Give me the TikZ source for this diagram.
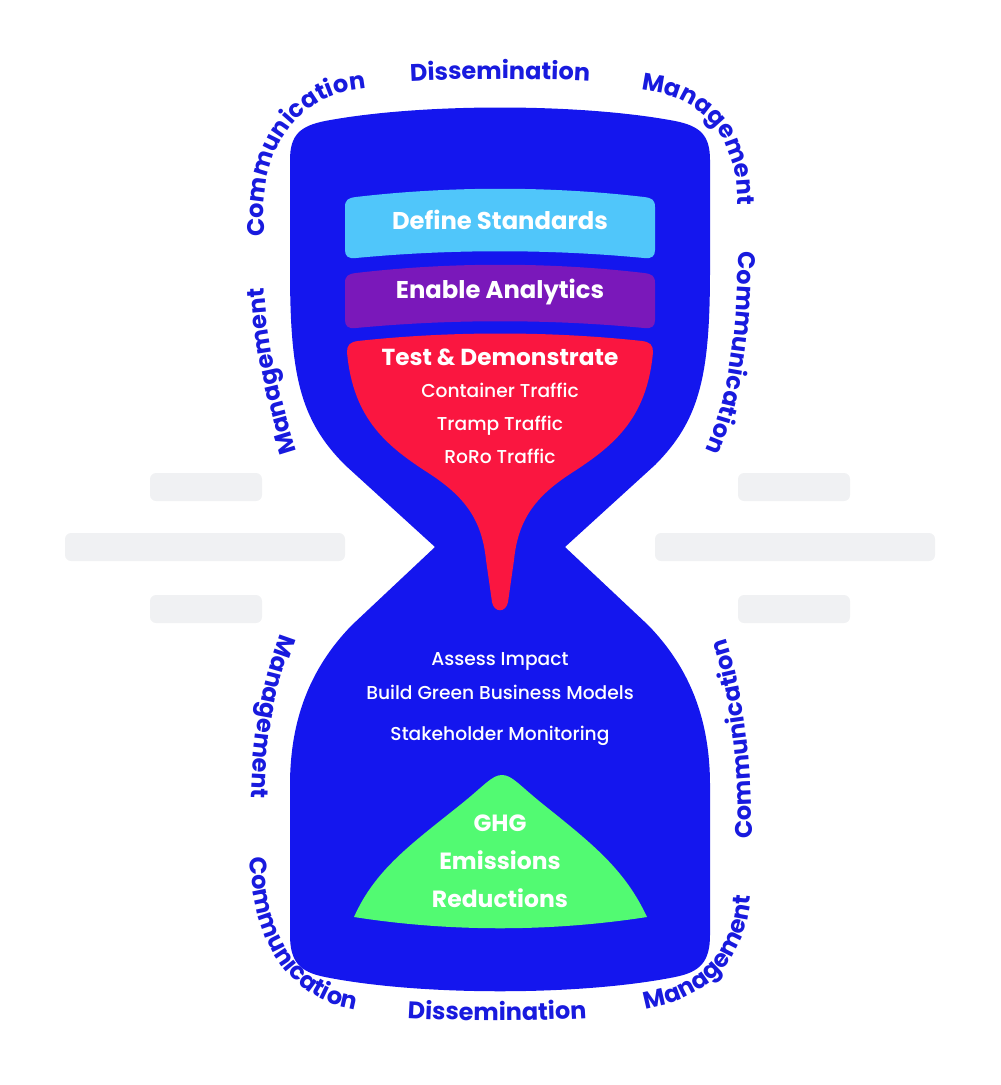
\documentclass[tikz,border=0pt]{standalone}
\usepackage{fontspec}
\setmainfont{Poppins}
\IfFontExistsTF{Poppins Medium}{\newfontfamily\medfont{Poppins Medium}}{\newcommand\medfont{}}
\usetikzlibrary{decorations.text}
\definecolor{hgblue}{RGB}{20,22,238}
\definecolor{lblblue}{RGB}{24,26,222}
\definecolor{skyb}{RGB}{80,198,250}
\definecolor{purp}{RGB}{122,24,186}
\definecolor{redf}{RGB}{250,22,64}
\definecolor{greenm}{RGB}{82,250,114}
\definecolor{barg}{RGB}{240,241,243}
\newcommand\lblfont{\bfseries\fontsize{18}{18}\selectfont}
\begin{document}
\begin{tikzpicture}[x=0.75pt,y=-0.75pt,
  bar/.style={fill=barg,rounded corners=4.5pt},
  inb/.style={text=white,anchor=base,inner sep=0pt,font=\bfseries\fontsize{18.2}{22}\selectfont},
  inr/.style={text=white,anchor=base,inner sep=0pt,font=\medfont\fontsize{14}{18}\selectfont},
  ringlbl/.style={decorate,decoration={text along path,text align=center,text color=lblblue,text={|\lblfont|#1}}}]
\useasboundingbox (0,0) rectangle (1000,1085);
% grey bars
\fill[bar] (150,473) rectangle (262,501);
\fill[bar] (65,533) rectangle (345,561);
\fill[bar] (150,595) rectangle (262,623);
\fill[bar] (738,473) rectangle (850,501);
\fill[bar] (655,533) rectangle (935,561);
\fill[bar] (738,595) rectangle (850,623);
% hourglass
\fill[hgblue] (290,160) .. controls (290,135) and (300,126) .. (325,121)
 .. controls (420,103) and (580,103) .. (675,121)
 .. controls (700,126) and (710,135) .. (710,160)
 -- (710,270)
 .. controls (710,375) and (700,420) .. (655,465)
 -- (565,547)
 -- (648,625)
 .. controls (690,668) and (710,720) .. (710,785)
 -- (710,935)
 .. controls (710,962) and (700,972) .. (675,977)
 .. controls (580,996) and (420,996) .. (325,977)
 .. controls (300,972) and (290,962) .. (290,935)
 -- (290,785)
 .. controls (290,720) and (310,668) .. (352,625)
 -- (435,547)
 -- (345,465)
 .. controls (300,420) and (290,375) .. (290,270)
 -- cycle;
% bands
\fill[skyb] (345,207) .. controls (345,200) and (348,198) .. (356,197) .. controls (450,186) and (550,186) .. (644,197) .. controls (652,198) and (655,200) .. (655,207) -- (655,250) .. controls (655,256) and (652,259) .. (644,258) .. controls (550,249) and (450,249) .. (356,258) .. controls (348,259) and (345,256) .. (345,250) -- cycle;
\fill[purp] (345,283) .. controls (345,276) and (348,274) .. (356,273) .. controls (450,262) and (550,262) .. (644,273) .. controls (652,274) and (655,276) .. (655,283) -- (655,320) .. controls (655,326) and (652,329) .. (644,328) .. controls (550,319) and (450,319) .. (356,328) .. controls (348,329) and (345,326) .. (345,320) -- cycle;
\fill[redf] (347,352) .. controls (347,345) and (350,342) .. (358,341) .. controls (450,331) and (550,331) .. (642,341) .. controls (650,342) and (653,345) .. (653,352) .. controls (647,420) and (612,447) .. (570,474) .. controls (535,497) and (518,520) .. (514,560) -- (508,602) .. controls (506,613) and (494,613) .. (492,602) -- (486,560) .. controls (482,520) and (465,497) .. (430,474) .. controls (388,447) and (353,420) .. (347,352) -- cycle;
\fill[greenm] (354,917) .. controls (375,870) and (410,845) .. (460,805) .. controls (485,785) and (492,775) .. (502,775) .. controls (512,775) and (519,785) .. (544,805) .. controls (594,845) and (625,870) .. (647,917) .. controls (550,932) and (450,932) .. (354,917) -- cycle;
% inner texts
\node[inb] (ds) at (500,229) {Define Standards};
\node[inb] (ea) at (500,298) {Enable Analytics};
\node[inb,font=\bfseries\fontsize{17.4}{22}\selectfont] (td) at (500,365) {Test \& Demonstrate};
\node[inr] (ct) at (500,397) {Container Traffic};
\node[inr] (tt) at (500,430) {Tramp Traffic};
\node[inr] (rr) at (500,463) {RoRo Traffic};
\node[inr] (ai) at (500,665) {Assess Impact};
\node[inr] (bg) at (500,699) {Build Green Business Models};
\node[inr] (sm) at (500,740) {Stakeholder Monitoring};
\node[inb,font=\bfseries\fontsize{17.6}{22}\selectfont] (g1) at (500,831) {GHG};
\node[inb,font=\bfseries\fontsize{17.6}{22}\selectfont] (g2) at (500,869) {Emissions};
\node[inb,font=\bfseries\fontsize{17.6}{22}\selectfont] (g3) at (500,907) {Reductions};
% ring labels
\path[ringlbl=Management] (314,505) -- (299,458) .. controls (280,400) and (266,340) .. (264,282) -- (264,232);
\path[ringlbl=Communication] (264,276) -- (264,226) .. controls (260,150) and (295,100) .. (356,90) -- (405,83);
\path[ringlbl=Dissemination] (360,85) .. controls (440,77) and (560,77) .. (640,85);
\path[ringlbl=Management] (599,84) -- (648,91) .. controls (705,99) and (737,140) .. (737,198) -- (737,248);
\path[ringlbl=Communication] (738,202) -- (738,252) .. controls (738,330) and (728,400) .. (706,450) -- (686,496);
\path[ringlbl=Management] (300,584) -- (282,630) .. controls (262,680) and (252,740) .. (251,802) -- (250,852);
\path[ringlbl=Communication] (250,805) -- (250,855) .. controls (252,945) and (290,1000) .. (358,1010) -- (407,1017);
\path[ringlbl=Dissemination] (356,1014) .. controls (438,1023) and (558,1023) .. (638,1014);
\path[ringlbl=Management] (588,1016) -- (638,1010) .. controls (705,1002) and (750,960) .. (751,888) -- (751,838);
\path[ringlbl=Communication] (752,895) -- (752,845) .. controls (752,760) and (744,690) .. (724,632) -- (708,585);
\end{tikzpicture}
\end{document}
